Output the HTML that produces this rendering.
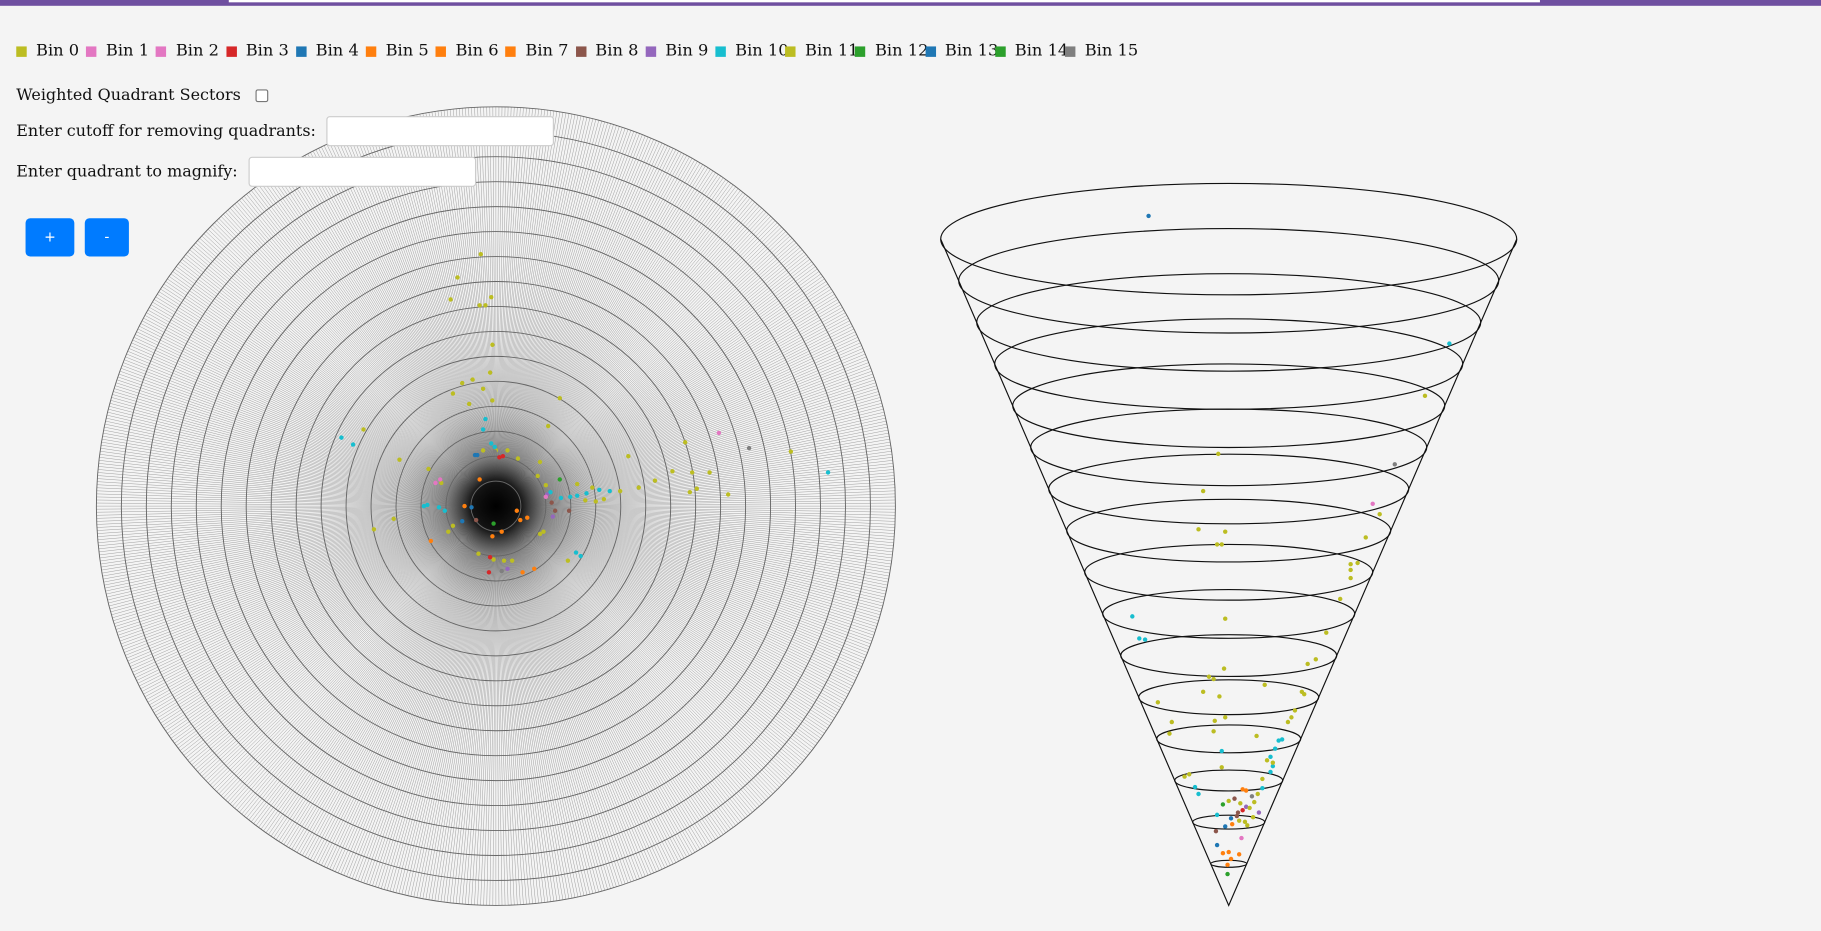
<!DOCTYPE html>
<html><head><meta charset="utf-8">
<style>
html,body{margin:0;padding:0;background:#f4f4f4;overflow:hidden;width:1821px;height:931px}
#wrap{position:absolute;left:0;top:0;width:1568px;height:802px;transform:scale(1.16135,1.1608);transform-origin:0 0;font-family:"DejaVu Serif","Liberation Serif",serif;font-size:13.75px;color:#111}
.topbar{position:absolute;left:0;top:0;width:1568px;height:5px;background:#6f4fa0}
.topwhite{position:absolute;left:197px;top:0;width:1129px;height:2px;background:#fff}
.leg{position:absolute;top:37px;height:16px;white-space:nowrap;font-size:14px}
.leg i{position:absolute;left:0;top:3px;width:9px;height:9px}
.leg span{position:absolute;left:17px;top:-1px}
.lbl{position:absolute;left:14px;white-space:nowrap;z-index:2}
.inp{position:absolute;height:24px;background:#fff;border:1px solid #ccc;border-radius:3px;z-index:2}
.btn{position:absolute;top:188px;height:33px;background:#007bff;border-radius:4px;color:#fff;font-family:"DejaVu Sans",sans-serif;font-size:12px;text-align:center;line-height:33px;z-index:2}
svg{position:absolute;left:0;top:0;z-index:1}
</style></head><body>
<div id="wrap">
<svg id="chart" width="1568" height="802"></svg>
<div class="topbar"></div>
<div class="topwhite"></div>
<div id="legend"></div>
<div class="lbl" style="top:74px">Weighted Quadrant Sectors</div>
<div style="position:absolute;left:220px;top:77px;width:9px;height:9px;border:1.5px solid #777;border-radius:2px;background:#fff;z-index:2"></div>
<div class="lbl" style="top:105px">Enter cutoff for removing quadrants:</div>
<div class="inp" style="left:281px;top:100px;width:194px"></div>
<div class="lbl" style="top:140px">Enter quadrant to magnify:</div>
<div class="inp" style="left:214px;top:135px;width:194px"></div>
<div class="btn" style="left:22px;width:42px">+</div>
<div class="btn" style="left:73px;width:38px">-</div>
</div>
<script>
const binColors=["#bcbd22","#e377c2","#e377c2","#d62728","#1f77b4","#ff7f0e","#ff7f0e","#ff7f0e","#8c564b","#9467bd","#17becf","#bcbd22","#2ca02c","#1f77b4","#2ca02c","#7f7f7f"];
const binLabels=["Bin 0","Bin 1","Bin 2","Bin 3","Bin 4","Bin 5","Bin 6","Bin 7","Bin 8","Bin 9","Bin 10","Bin 11","Bin 12","Bin 13","Bin 14","Bin 15"];
// polar scatter: x/y offsets from origin in chart units, bin index
const polarX=[-13,-33,-39,-14,-9,-4,-3,-5,-29,-20,-37,-11,-23,-3,55,45,-114,163,254,114,152,169,184,137,123,107,200,173,167,-83,-58,-47,38,36,43,70,83,93,77,86,-105,-88,-41,-37,38,41,62,-15,-2,7,14,-11,0,10,19,
-133,-123,-9,-11,-4,-1,-62,-59,-49,-44,47,56,64,70,78,89,98,69,73,286,
-27,-14,21,27,18,-3,5,-56,23,33, 3,6,-5,-6, -18,-16,-29,-21, 51,48,63,-17, 44,49,10, -48,-52,43,192, 55,-2, -1,218,5];
const polarY=[217,197,178,173,173,180,139,115,106,109,97,101,88,91,93,69,66,55,47,43,30,29,29,22,16,13,10,15,12,40,32,20,38,26,18,19,16,6,5,4,-20,-11,-22,-17,-24,-22,-47,-41,-46,-47,-47,48,48,48,41,
59,53,75,66,54,51,0,1,-1,-4,12,7,8,9,11,14,13,-40,-43,29,
0,23,-12,-10,-4,-26,-22,-30,-57,-54, 42,43,-44,-57, 44,44,-13,-1, -4,3,-4,-12, 10,-9,-54, 23,20,8,63, 23,-15, 47,50,-56];
const polarBin=[0,11,0,11,0,11,0,11,0,11,0,11,0,11,0,11,0,11,0,11,0,11,0,11,0,11,0,11,0,11,0,11,0,11,0,11,0,11,0,11,0,11,0,11,0,11,0,11,0,11,0,11,0,11,0,
10,10,10,10,10,10,10,10,10,10,10,10,10,10,10,10,10,10,10,10,
5,6,7,5,6,7,5,6,7,5, 3,3,3,3, 4,13,4,13, 8,8,8,8, 9,9,9, 1,2,1,2, 12,14, 15,15,15];
// cone scatter: horizontal offset and height above apex in chart units
const coneU=[-69,190,169,143,-9,-22,-26,-3,-10,-6,124,130,118,105,111,105,105,96,-83,-3,84,-77,-72,75,68,-4,-17,-13,31,-22,-8,63,65,-61,57,54,51,46,-3,-12,-49,-51,-13,24,43,40,-6,36,38,36,33,38,29,-34,-38,-6,-29,-26,29,12,15,
0,5,10,15,20,25,-5,8,12,18,22,-10,2,7,14,21,26,3,-3,9,16,
-11,-10,11,-5,0,9,2,-1,-1];
const coneV=[594,484,439,380,389,357,324,322,311,311,346,337,317,294,295,289,282,264,249,247,235,230,229,212,208,204,197,195,190,184,180,184,182,175,168,162,158,143,162,159,158,148,150,146,142,135,133,128,120,115,125,123,109,113,111,119,102,96,101,100,99,
90,92,88,85,94,96,87,80,82,84,89,78,75,77,72,76,80,70,68,73,69,
64,52,58,45,46,44,40,35,27];
const coneBin=[4,10,0,15,0,11,0,11,0,11,1,0,11,0,11,0,11,0,10,0,11,10,10,0,11,0,11,0,11,0,11,0,11,0,11,0,11,10,0,11,0,11,0,11,10,10,10,10,10,10,0,11,0,11,0,11,10,10,10,5,6,
0,8,11,9,15,0,12,8,3,0,11,10,4,8,0,11,9,5,13,11,0,
8,4,1,5,6,7,5,7,12];
const ringCount=16, spokeCount=820;

const NS='http://www.w3.org/2000/svg';
const svg=document.getElementById('chart');
function mk(tag,attrs,parent){const e=document.createElementNS(NS,tag);for(const k in attrs)e.setAttribute(k,attrs[k]);(parent||svg).appendChild(e);return e;}

const leg=document.getElementById('legend');
binLabels.forEach((t,i)=>{const d=document.createElement('div');d.className='leg';d.style.left=(14+i*60.2)+'px';


d.innerHTML='<i style="background:'+binColors[i]+'"></i><span>'+t+'</span>';leg.appendChild(d);});

// polar chart
const PCX=427,PCY=436,PR=344;
const ringStep=PR/ringCount;
const px=v=>PCX+v, py=v=>PCY-v;
const gP=mk('g',{});


let d='';
for(let i=0;i<spokeCount;i++){const a=i/spokeCount*2*Math.PI;d+='M'+PCX+' '+PCY+'L'+(PCX+PR*Math.cos(a)).toFixed(2)+' '+(PCY+PR*Math.sin(a)).toFixed(2);}
const sp=mk('path',{d:d,stroke:'#7a7a7a','stroke-width':0.42,fill:'none','stroke-opacity':0.72},gP);


const defs=mk('defs',{});
const rg=mk('radialGradient',{id:'cg'},defs);
mk('stop',{offset:'0','stop-color':'#000','stop-opacity':'1'},rg);
mk('stop',{offset:'0.25','stop-color':'#000','stop-opacity':'0.85'},rg);
mk('stop',{offset:'0.5','stop-color':'#333','stop-opacity':'0.3'},rg);
mk('stop',{offset:'1','stop-color':'#888','stop-opacity':'0'},rg);
const glow=mk('circle',{cx:PCX,cy:PCY,r:85,fill:'url(#cg)'},gP);


for(let r=1;r<=ringCount;r++){const c=mk('circle',{cx:PCX,cy:PCY,r:r*ringStep,fill:'none',stroke:'#666','stroke-width':0.8},gP);

}
polarX.forEach((x,i)=>{const c=mk('circle',{cx:px(x),cy:py(polarY[i]),r:1.9,fill:binColors[polarBin[i]]},gP);

});

// cone chart
const CX=1058,APEX=780,TOPY=206,TOPRX=248,levels=16;
const ratio=48/248;
const cx=u=>CX+u, cy=v=>APEX-v;
const gC=mk('g',{});


const l1=mk('path',{d:'M'+(CX-TOPRX)+' '+TOPY+'L'+CX+' '+APEX+'L'+(CX+TOPRX)+' '+TOPY,stroke:'#111','stroke-width':1,fill:'none'},gC);


for(let k=1;k<=levels;k++){const rx=TOPRX*k/levels;const y=APEX-(APEX-TOPY)*k/levels;
const e=mk('ellipse',{cx:CX,cy:y,rx:rx,ry:rx*ratio,fill:'none',stroke:'#111','stroke-width':1},gC);

}
coneU.forEach((u,i)=>{const c=mk('circle',{cx:cx(u),cy:cy(coneV[i]),r:1.9,fill:binColors[coneBin[i]]},gC);

});
</script>
</body></html>
